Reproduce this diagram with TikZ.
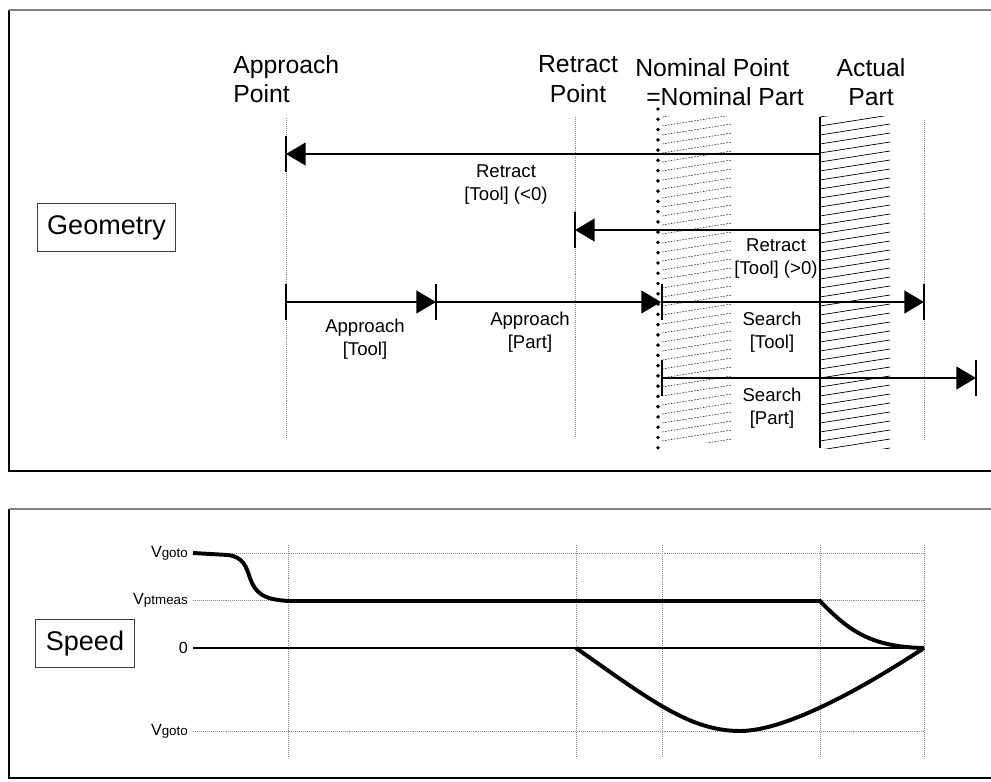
\documentclass[tikz,border=0pt]{standalone}
\usepackage{fontspec}
\setmainfont{Liberation Sans}
\usetikzlibrary{arrows.meta}
\definecolor{framegray}{HTML}{808080}
\definecolor{guidegray}{HTML}{8A8A8A}
\newcommand{\headfont}{\fontsize{17.6}{21}\selectfont}
\newcommand{\dimfont}{\fontsize{13.2}{16.4}\selectfont}
\newcommand{\tagfont}{\fontsize{19.2}{22}\selectfont}
\newcommand{\vlab}[1]{V{\fontsize{9.5}{10}\selectfont #1}}

\begin{document}
\begin{tikzpicture}[x=0.025cm, y=-0.025cm,
          frame/.style={line width=1.1pt},
          guide/.style={guidegray, line width=0.6pt, dash pattern=on 0.7pt off 0.7pt},
          dimarr/.style={line width=2.1pt, -{Triangle[length=14pt, width=16pt]}},
          tick/.style={line width=2.1pt},
          dimlbl/.style={font=\dimfont, align=center, inner sep=0pt},
          headlbl/.style={font=\headfont, align=center, inner sep=0pt},
          tagbox/.style={rectangle, draw=black!75, line width=0.7pt,
                         font=\tagfont, minimum height=1.18cm},
          vlbl/.style={font=\fontsize{11.5}{12}\selectfont, inner sep=3.5pt, anchor=east},
          hatch/.style={line width=0.5pt},
          nomhatch/.style={line width=0.4pt, black!85, dash pattern=on 1.2pt off 0.9pt},
          profile/.style={line width=2.8pt}
        ]
        \useasboundingbox (0,0) rectangle (991,781);
        \clip (0,0) rectangle (991,781);
        %% Frames
        \draw[frame] (9,10) -- (9,471) -- (995,471);
        \draw[frame, framegray] (9,10) -- (995,10);
        \draw[frame] (9,509) -- (9,778) -- (995,778);
        \draw[frame, framegray] (9,509) -- (995,509);
        %% Positions
        \coordinate (xAppr) at (286,0);
        \coordinate (xMid) at (436,0);
        \coordinate (xRetr) at (575,0);
        \coordinate (xNom) at (661,0);
        \coordinate (xAct) at (820,0);
        \coordinate (xEnd) at (924,0);
        \coordinate (xFar) at (976,0);
        \coordinate (rowA) at (0,154);
        \coordinate (rowB) at (0,230);
        \coordinate (rowC) at (0,302);
        \coordinate (rowD) at (0,378);
        %% Geometry
        \node[tagbox, minimum width=3.43cm] (geom) at (106.5,227.5) {Geometry};
        \node[headlbl, anchor=west, align=left] (apprPt) at (233,79) {Approach\\Point};
        \node[headlbl] (retrPt) at (578,79) {Retract\\Point};
        \node[headlbl, anchor=west] (nomPt) at (635,68) {Nominal Point};
        \node[headlbl, anchor=west] (nomPart) at (646,97) {=Nominal Part};
        \node[headlbl] (actPart) at (871,82) {Actual\\Part};
        %% Guide lines
        \draw[guide] (286,118) -- (286,437);
        \draw[guide] (575,117) -- (575,437);
        \draw[guide] (924,120) -- (924,440);
        %% Nominal part (hatched, dashed)
        \begin{scope}
          \clip (662,117) rectangle (732,442);
          \foreach \k in {0,...,38}
            \draw[nomhatch] (662,{117+9*\k}) -- ++(70,-11);
        \end{scope}
        \draw[line width=2.8pt, line cap=round, dash pattern=on 0pt off 7.3pt] (658,109) -- (658,457);
        %% Actual part
        \begin{scope}
          \clip (820,117) rectangle (890,448);
          \foreach \k in {0,...,38}
            \draw[hatch] (820,{117+9*\k}) -- ++(70,-11);
        \end{scope}
        \draw[line width=1.4pt] (820,117) -- (820,448);
        %% Dimension arrows
        \draw[dimarr] (xAct |- rowA) -- (xAppr |- rowA);
        \draw[dimarr] (xAct |- rowB) -- (xRetr |- rowB);
        \draw[dimarr] (xAppr |- rowC) -- (xMid |- rowC);
        \draw[dimarr] (xMid |- rowC) -- (xNom |- rowC);
        \draw[dimarr] (xNom |- rowC) -- (xEnd |- rowC);
        \draw[dimarr] (xNom |- rowD) -- (xFar |- rowD);
        \foreach \x/\y in {286/154, 575/230, 286/302, 436/302, 662/302, 924/302, 662/378, 976/378}
          \draw[tick] (\x,\y-18) -- (\x,\y+18);
        \node[dimlbl] (retrTn) at (506,184.5) {Retract\\{}[Tool] (<0)};
        \node[dimlbl] (retrTp) at (776,259) {Retract\\{}[Tool] (>0)};
        \node[dimlbl] (apprT) at (365,339.5) {Approach\\{}[Tool]};
        \node[dimlbl] (apprP) at (530,332) {Approach\\{}[Part]};
        \node[dimlbl] (srchT) at (772,332) {Search\\{}[Tool]};
        \node[dimlbl] (srchP) at (772,408) {Search\\{}[Part]};
        %% Speed
        \node[tagbox, minimum width=2.45cm] (speed) at (85,643.5) {Speed};
        \node[vlbl] (vTop) at (193,553) {\vlab{goto}};
        \node[vlbl] (vMeas) at (193,600) {\vlab{ptmeas}};
        \node[vlbl] (vZero) at (193,648) {0};
        \node[vlbl] (vBot) at (193,731) {\vlab{goto}};
        \foreach \x in {288,576,662,820,924}
          \draw[guide] (\x,545) -- (\x,757);
        \draw[guide] (vTop.east) -- (vTop.east -| xEnd);
        \draw[guide] (vMeas.east) -- (vMeas.east -| xEnd);
        \draw[guide] (vBot.east) -- (vBot.east -| xEnd);
        \draw[line width=1pt] (vZero.east) -- (vZero.east -| xEnd);
        \draw[profile] (193,553) -- (228,555) .. controls (243,557) and (246,566) .. (250,578)
              .. controls (255,592) and (262,600) .. (290,601) -- (820,601)
              .. controls (848,630) and (870,647) .. (924,648);
        \draw[profile] (576,648) .. controls (650,700) and (690,731) .. (740,731)
              .. controls (785,731) and (860,690) .. (924,648);
      \end{tikzpicture}
\end{document}
